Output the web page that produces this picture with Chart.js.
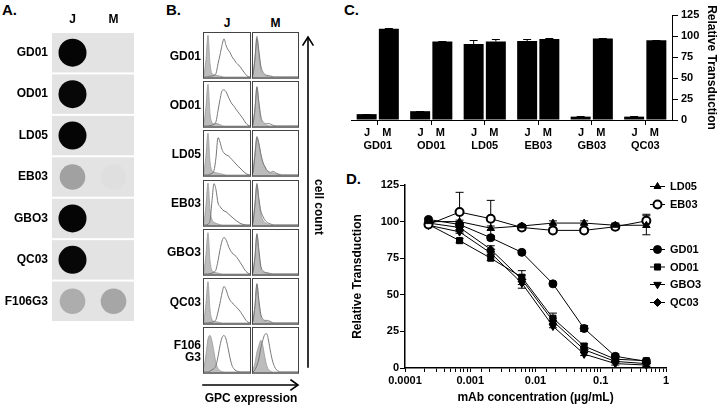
<!DOCTYPE html>
<html><head><meta charset="utf-8">
<script src="https://cdn.jsdelivr.net/npm/chart.js@4.4.1/dist/chart.umd.min.js"></script>
<style>
html,body{margin:0;padding:0;background:#fff;}
body{width:720px;height:406px;position:relative;overflow:hidden;font-family:'Liberation Sans',Arial,Helvetica,sans-serif;font-weight:bold;color:#000;}
.box{position:absolute;}
.plab{position:absolute;font-size:15px;font-weight:bold;line-height:16px;}
.txt{position:absolute;font-size:12px;font-weight:bold;line-height:13px;white-space:nowrap;}
.cell{position:absolute;box-sizing:border-box;border:1px solid #444;border-bottom:2px solid #7a7a7a;background:#fff;}
.rowlab{position:absolute;left:140px;width:61px;display:flex;align-items:center;justify-content:flex-end;text-align:right;font-size:12px;font-weight:bold;line-height:12px;}
</style></head><body>

<div class="plab" style="left:2px;top:2px;">A.</div>
<div class="plab" style="left:166px;top:2px;">B.</div>
<div class="plab" style="left:344px;top:2px;">C.</div>
<div class="plab" style="left:346px;top:171px;">D.</div>

<div class="box" id="boxA" style="left:0;top:0;width:148px;height:336px;"><canvas id="chartA"></canvas></div>
<div id="flowArea"></div>
<div class="box" id="boxC" style="left:340px;top:0;width:380px;height:160px;"><canvas id="chartC"></canvas></div>
<div class="box" id="boxD" style="left:340px;top:170px;width:380px;height:236px;"><canvas id="chartD"></canvas></div>

<svg class="box" style="left:0;top:0;" width="720" height="406" viewBox="0 0 720 406">
  <g stroke="#000" stroke-width="1.6" fill="none" stroke-linecap="square">
    <line x1="308" y1="367" x2="308" y2="38"/>
    <polyline points="303,45 308,37 313,45"/>
    <line x1="203" y1="385" x2="297" y2="385"/>
    <polyline points="291,380 298,385 291,390"/>
  </g>
</svg>
<div class="txt" style="left:318px;top:207px;transform:translate(-50%,-50%) rotate(90deg);">cell count</div>
<div class="txt" style="left:251px;top:398px;transform:translate(-50%,-50%);">GPC expression</div>

<script>
// ---------------- data ----------------
// Panel A: dot blot
const dotRows = ['GD01','OD01','LD05','EB03','GBO3','QC03','F106G3'];
const dotLanes = ['J','M'];
const dotSignalJ = [0.98, 0.97, 0.98, 0.29, 0.98, 0.97, 0.24];
const dotSignalM = [0, 0, 0, 0.018, 0, 0, 0.27];

// Panel B: flow cytometry histograms (percent of max per channel bin)
const flowRows = ['GD01','OD01','LD05','EB03','GBO3','QC03','F106\nG3'];
const flowLanes = ['J','M'];
const flowBins = [1,2,3,4,5,6,7,8,9,10,11,12,13,14,15,16,17,18,19,20,21,22,23,24];
const jControl = [
  [5,40,95,30,8,5,4,3,2,1,0,0,0,0,0,0,0,0,0,0,0,0,0,0],
  [5,45,95,28,8,5,6,5,3,1,0,0,0,0,0,0,0,0,0,0,0,0,0,0],
  [5,45,95,30,10,6,5,4,3,2,1,0,0,0,0,0,0,0,0,0,0,0,0,0],
  [5,45,95,35,12,6,4,2,1,0,0,0,0,0,0,0,0,0,0,0,0,0,0,0],
  [5,45,94,30,8,5,3,2,1,0,0,0,0,0,0,0,0,0,0,0,0,0,0,0],
  [5,45,94,30,8,4,3,2,1,0,0,0,0,0,0,0,0,0,0,0,0,0,0,0],
  [10,40,75,83,70,45,20,8,3,1,0,0,0,0,0,0,0,0,0,0,0,0,0,0]
];
const jSample = [
  [0,0,0,2,2,4,8,30,50,72,87,72,62,56,46,40,33,28,24,17,11,5,1,0],
  [0,0,0,1,2,4,10,35,60,80,82,78,68,58,50,45,38,32,26,20,13,6,2,0],
  [0,0,0,2,4,10,40,85,75,58,50,46,44,40,35,30,25,20,16,11,7,3,1,0],
  [0,0,2,10,55,94,80,50,42,36,32,30,26,22,18,14,10,7,4,2,1,0,0,0],
  [0,0,0,1,2,4,10,30,55,75,83,78,66,55,48,44,40,34,27,20,12,6,2,0],
  [0,0,0,1,2,3,8,25,45,68,83,76,62,52,46,42,37,32,27,20,13,6,2,0],
  [0,0,0,2,5,8,15,35,60,78,83,75,55,32,15,7,3,1,0,0,0,0,0,0]
];
const mControl = [
  [5,45,93,50,18,8,4,2,1,0,0,0,0,0,0,0,0,0,0,0,0,0,0,0],
  [4,40,90,45,15,6,3,2,1,0,0,0,0,0,0,0,0,0,0,0,0,0,0,0],
  [5,50,88,70,45,28,18,10,6,4,5,4,2,1,0,0,0,0,0,0,0,0,0,0],
  [5,50,95,55,25,12,6,3,1,0,0,0,0,0,0,0,0,0,0,0,0,0,0,0],
  [4,40,92,48,12,5,3,2,1,0,0,0,0,0,0,0,0,0,0,0,0,0,0,0],
  [4,40,90,45,14,6,4,3,2,1,0,0,0,0,0,0,0,0,0,0,0,0,0,0],
  [5,20,45,60,72,60,35,15,5,2,0,0,0,0,0,0,0,0,0,0,0,0,0,0]
];
const mSample = [
  [4,40,88,60,25,12,6,4,3,2,1,0,0,0,0,0,0,0,0,0,0,0,0,0],
  [3,38,88,55,22,10,6,5,6,4,2,1,0,0,0,0,0,0,0,0,0,0,0,0],
  [4,45,85,72,48,30,20,12,8,6,8,7,4,2,1,0,0,0,0,0,0,0,0,0],
  [4,45,92,60,32,20,12,7,4,2,1,0,0,0,0,0,0,0,0,0,0,0,0,0],
  [3,38,90,55,18,8,4,3,2,1,0,0,0,0,0,0,0,0,0,0,0,0,0,0],
  [3,38,88,52,20,9,6,6,5,3,1,0,0,0,0,0,0,0,0,0,0,0,0,0],
  [0,5,15,30,55,72,85,87,70,45,25,12,5,2,0,0,0,0,0,0,0,0,0,0]
];

// Panel C: relative transduction bars
const groups = ['GD01','OD01','LD05','EB03','GB03','QC03'];
const jValues = [7, 10.5, 90.5, 94, 4, 4];
const mValues = [108.5, 93.5, 93.5, 96.5, 97, 95];
const jErr = [0.6, 0.3, 4.5, 3, 0.4, 0.3];
const mErr = [0.8, 0.5, 2.5, 0.6, 0.8, 0.4];
const cTicks = [0, 25, 50, 75, 100, 125];

// Panel D: neutralization curves
const concentrations = [0.000229, 0.000686, 0.00206, 0.00617, 0.0185, 0.0556, 0.167, 0.5];
const decadeLabels = ['0.0001','0.001','0.01','0.1','1'];
const ld05 = [100, 100, 95.5, 97, 99, 99, 97.5, 97.5];
const eb03 = [98, 106.5, 102, 96, 94, 94, 96.5, 100.5];
const gd01 = [101.5, 98, 89, 79, 57.5, 27, 8, 4.5];
const od01 = [98, 87, 75, 62, 34, 15, 6, 5];
const gbo3 = [97.5, 93, 78.5, 58, 28.5, 9.5, 3, 2];
const qc03 = [99, 96, 81, 60.5, 32, 12.5, 4.5, 3];
const ld05Err = [1, 1, 1.5, 1, 1.5, 1.5, 1.5, 6.5];
const eb03Err = [1, 13.5, 12.5, 2, 1.5, 1.5, 2, 4.5];
const gd01Err = [1, 1, 1.5, 1, 1, 2, 1.5, 1];
const od01Err = [1, 1.5, 1.5, 1.5, 3.5, 1.5, 1, 1];
const gbo3Err = [1, 1, 1, 1, 1, 1, 1, 1];
const qc03Err = [1, 1.5, 2.5, 6, 2, 1.5, 1, 1];

// ---------------- defaults ----------------
const FONT = "'Liberation Sans', Arial, Helvetica, sans-serif";
Chart.defaults.font.family = FONT;
Chart.defaults.font.weight = 'bold';
Chart.defaults.color = '#000';
Chart.defaults.animation = false;
Chart.defaults.plugins.legend.display = false;
Chart.defaults.plugins.tooltip.enabled = false;
Chart.defaults.responsive = true;
Chart.defaults.maintainAspectRatio = false;
Chart.defaults.devicePixelRatio = 1;

// ---------------- Panel A ----------------
function grayFor(s){ const v = Math.round(227*(1-s)); return 'rgb('+v+','+v+','+v+')'; }
const dotPoints = [];
dotRows.forEach((r,i)=>{
  if (dotSignalJ[i] > 0) dotPoints.push({x:'J', y:r, s:dotSignalJ[i]});
  if (dotSignalM[i] > 0) dotPoints.push({x:'M', y:r, s:dotSignalM[i]});
});
const rowBands = {
  id:'rowBands',
  beforeDatasetsDraw(chart){
    const {ctx, chartArea:a, scales:{y}} = chart;
    const n = y.getLabels().length; const h = (a.bottom - a.top)/n;
    ctx.save(); ctx.fillStyle = '#e3e3e3';
    for (let i=0;i<n;i++){ const cy = y.getPixelForValue(i); ctx.fillRect(a.left, cy-h/2+1, a.right-a.left, h-2); }
    ctx.restore();
  }
};
new Chart(document.getElementById('chartA'), {
  type:'scatter',
  data:{ datasets:[{ data: dotPoints,
    pointRadius: c => (c.raw && c.raw.s > 0.5) ? 14 : 12.8,
    pointBackgroundColor: c => grayFor(c.raw ? c.raw.s : 0),
    pointBorderWidth: 0, pointBorderColor:'rgba(0,0,0,0)' }]},
  options:{
    layout:{padding:{right:1,bottom:1,top:0,left:0}},
    scales:{
      x:{type:'category', labels:dotLanes, position:'top', offset:true,
         grid:{display:false, drawTicks:false}, border:{display:false},
         ticks:{font:{size:12,weight:'bold'}, padding:5},
         afterFit(s){ s.height = 32; }},
      y:{type:'category', labels:dotRows, offset:true,
         grid:{display:false, drawTicks:false}, border:{display:false},
         ticks:{font:{size:12,weight:'bold'}, padding:4},
         afterFit(s){ s.width = 52; }}
    }
  },
  plugins:[rowBands]
});

// ---------------- Panel B ----------------
const flowArea = document.getElementById('flowArea');
const laneLeft = [203, 252], laneWidth = [48, 47];
flowLanes.forEach((lane, li)=>{
  const h = document.createElement('div');
  h.className = 'txt';
  h.style.left = (laneLeft[li] + laneWidth[li]/2) + 'px';
  h.style.top = '23px';
  h.style.transform = 'translate(-50%,-50%)';
  h.textContent = lane;
  flowArea.appendChild(h);
});
flowRows.forEach((row, ri)=>{
  const top = 32 + ri*49.2;
  const lab = document.createElement('div');
  lab.className = 'rowlab';
  lab.style.top = top + 'px'; lab.style.height = '47px';
  lab.innerHTML = row.split('\n').join('<br>');
  flowArea.appendChild(lab);
  flowLanes.forEach((lane, li)=>{
    const cell = document.createElement('div');
    cell.className = 'cell';
    cell.style.left = laneLeft[li] + 'px'; cell.style.top = top + 'px';
    cell.style.width = laneWidth[li] + 'px'; cell.style.height = '47px';
    const inner = document.createElement('div');
    inner.style.position = 'relative'; inner.style.width = '100%'; inner.style.height = '100%';
    const cv = document.createElement('canvas');
    inner.appendChild(cv); cell.appendChild(inner); flowArea.appendChild(cell);
    const control = li === 0 ? jControl[ri] : mControl[ri];
    const sample = li === 0 ? jSample[ri] : mSample[ri];
    new Chart(cv, {
      type:'line',
      data:{ labels: flowBins, datasets:[
        {data: sample, borderColor:'#777', borderWidth:1, pointRadius:0, fill:false, cubicInterpolationMode:'monotone'},
        {data: control, borderColor:'#999', borderWidth:0.8, backgroundColor:'#bcbcbc', pointRadius:0, fill:'origin', cubicInterpolationMode:'monotone'}
      ]},
      options:{ layout:{padding:0}, scales:{ x:{display:false}, y:{display:false, min:0, max:100} } }
    });
  });
});

// ---------------- Panel C ----------------
const barErrors = {
  id:'barErrors',
  afterDatasetsDraw(chart){
    const ctx = chart.ctx, y = chart.scales.y;
    ctx.save(); ctx.strokeStyle = '#000'; ctx.lineWidth = 1;
    chart.data.datasets.forEach((ds, di)=>{
      chart.getDatasetMeta(di).data.forEach((bar, i)=>{
        const top = Math.round(y.getPixelForValue(ds.data[i] + ds.errors[i])) + 0.5;
        ctx.beginPath();
        ctx.moveTo(bar.x, bar.y); ctx.lineTo(bar.x, top);
        ctx.moveTo(bar.x - 4, top); ctx.lineTo(bar.x + 4, top);
        ctx.stroke();
      });
    });
    ctx.restore();
  }
};
new Chart(document.getElementById('chartC'), {
  type:'bar',
  data:{ labels: groups.map(g => ['J    M', g]), datasets:[
    {label:'J', data:jValues, errors:jErr, backgroundColor:'#000', borderWidth:0, barPercentage:0.9, categoryPercentage:0.83},
    {label:'M', data:mValues, errors:mErr, backgroundColor:'#000', borderWidth:0, barPercentage:0.9, categoryPercentage:0.83}
  ]},
  options:{
    layout:{padding:{left:11, top:15, right:0, bottom:0}},
    scales:{
      x:{ offset:true,
          grid:{display:true, drawOnChartArea:false, offset:false, tickLength:5, color:'#000', lineWidth:1},
          border:{display:true, color:'#000', width:1},
          ticks:{font:{size:11, weight:'bold'}, padding:1, maxRotation:0, autoSkip:false},
          afterFit(s){ s.height = 40; } },
      y:{ position:'right', min:0, max:125,
          afterBuildTicks(s){ s.ticks = cTicks.map(v => ({value:v})); },
          grid:{display:true, drawOnChartArea:false, tickLength:6, color:'#000', lineWidth:1},
          border:{display:true, color:'#000', width:1},
          ticks:{font:{size:11, weight:'bold'}, padding:3},
          title:{display:true, text:'Relative Transduction', font:{size:12, weight:'bold'}, padding:{top:1, bottom:0}},
          afterFit(s){ s.width = 48; } }
    }
  },
  plugins:[barErrors]
});

// ---------------- Panel D ----------------
const seriesD = [
  {name:'LD05', y:ld05, err:ld05Err, style:'triangle', r:4,   rot:0,   fill:'#000', bw:1},
  {name:'EB03', y:eb03, err:eb03Err, style:'circle',   r:4,   rot:0,   fill:'#fff', bw:2},
  {name:'GD01', y:gd01, err:gd01Err, style:'circle',   r:4,   rot:0,   fill:'#000', bw:1},
  {name:'OD01', y:od01, err:od01Err, style:'rect',     r:4.3, rot:0,   fill:'#000', bw:1},
  {name:'GBO3', y:gbo3, err:gbo3Err, style:'triangle', r:4.3, rot:180, fill:'#000', bw:1},
  {name:'QC03', y:qc03, err:qc03Err, style:'rectRot',  r:4,   rot:0,   fill:'#000', bw:1}
];
const legendRowY = [16.5, 34.5, 79.5, 97, 114.5, 132.5];

function drawMarker(ctx, s, x, y){
  ctx.save();
  ctx.fillStyle = s.fill; ctx.strokeStyle = '#000'; ctx.lineWidth = s.bw;
  if (Chart.helpers && Chart.helpers.drawPoint){
    Chart.helpers.drawPoint(ctx, {pointStyle:s.style, rotation:s.rot, radius:s.r, borderWidth:s.bw}, x, y);
  } else {
    ctx.beginPath(); ctx.arc(x, y, s.r, 0, Math.PI*2); ctx.fill(); ctx.stroke();
  }
  ctx.restore();
}
const errBarsD = {
  id:'errBarsD',
  beforeDatasetsDraw(chart){
    const ctx = chart.ctx, ys = chart.scales.y;
    ctx.save(); ctx.strokeStyle = '#000'; ctx.lineWidth = 1;
    chart.data.datasets.forEach((ds, di)=>{
      chart.getDatasetMeta(di).data.forEach((pt, i)=>{
        const v = ds.data[i].y, e = ds.errors[i];
        const t = ys.getPixelForValue(v + e), b = ys.getPixelForValue(v - e);
        ctx.beginPath();
        ctx.moveTo(pt.x, t); ctx.lineTo(pt.x, b);
        ctx.moveTo(pt.x - 4, t); ctx.lineTo(pt.x + 4, t);
        ctx.moveTo(pt.x - 4, b); ctx.lineTo(pt.x + 4, b);
        ctx.stroke();
      });
    });
    ctx.restore();
  }
};
const legendD = {
  id:'legendD',
  afterDraw(chart){
    const ctx = chart.ctx, a = chart.chartArea;
    const x0 = a.right - 16, x1 = a.right - 1, xm = (x0 + x1)/2;
    ctx.save();
    ctx.font = 'bold 11px ' + FONT; ctx.textBaseline = 'middle'; ctx.textAlign = 'left'; ctx.fillStyle = '#000';
    seriesD.forEach((s, i)=>{
      const y = legendRowY[i];
      ctx.strokeStyle = '#000'; ctx.lineWidth = 1;
      ctx.beginPath(); ctx.moveTo(x0, y); ctx.lineTo(x1, y); ctx.stroke();
      drawMarker(ctx, s, xm, y);
      ctx.fillStyle = '#000';
      ctx.fillText(s.name, a.right + 4, y + 0.5);
    });
    ctx.restore();
  }
};
new Chart(document.getElementById('chartD'), {
  type:'line',
  data:{ datasets: seriesD.map(s => ({
    label:s.name,
    data: concentrations.map((c, i) => ({x:c, y:s.y[i]})),
    errors: s.err,
    borderColor:'#000', borderWidth:1, tension:0,
    pointStyle:s.style, pointRotation:s.rot, pointRadius:s.r,
    pointBackgroundColor:s.fill, pointBorderColor:'#000', pointBorderWidth:s.bw,
    clip:false
  }))},
  options:{
    layout:{padding:{left:0, top:15, right:54, bottom:0}},
    scales:{
      x:{ type:'logarithmic', min:0.0001, max:1,
          grid:{display:true, drawOnChartArea:false, tickLength:4, color:'#000', lineWidth:1},
          border:{display:true, color:'#000', width:1.5},
          ticks:{font:{size:11, weight:'bold'}, padding:2, autoSkip:false, maxRotation:0,
            callback(v){ const l = Math.log10(v), r = Math.round(l);
              return Math.abs(l - r) < 1e-6 ? decadeLabels[r + 4] : ''; } },
          title:{display:true, text:'mAb concentration (µg/mL)', font:{size:12, weight:'bold'}, padding:{top:0, bottom:1}},
          afterFit(s){ s.height = 38; } },
      y:{ min:0, max:125,
          afterBuildTicks(s){ s.ticks = cTicks.map(v => ({value:v})); },
          grid:{display:true, drawOnChartArea:false, tickLength:5, color:'#000', lineWidth:1},
          border:{display:true, color:'#000', width:1.5},
          ticks:{font:{size:11, weight:'bold'}, padding:1},
          title:{display:true, text:'Relative Transduction', font:{size:12, weight:'bold'}, padding:{top:10, bottom:0}},
          afterFit(s){ s.width = 65; } }
    }
  },
  plugins:[errBarsD, legendD]
});
</script>
</body></html>
